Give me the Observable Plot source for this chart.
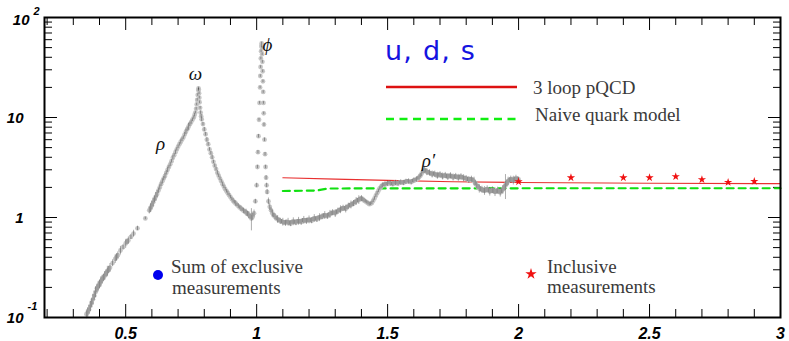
<!DOCTYPE html>
<html>
<head>
<meta charset="utf-8">
<script src="https://cdn.jsdelivr.net/npm/d3@7"></script>
<script src="https://cdn.jsdelivr.net/npm/@observablehq/plot@0.6"></script>
<style>
  html, body { margin: 0; padding: 0; background: #fff; }
  svg { display: block; }
</style>
</head>
<body>
<div id="chart"></div>
<script>
// ---- data: [sqrt(s) GeV, R, relative error] ----
const rhoOmegaData = [
  [0.350,0.108,0.10],[0.355,0.112,0.12],[0.360,0.120,0.10],[0.365,0.130,0.12],[0.370,0.140,0.10],
  [0.375,0.152,0.12],[0.380,0.165,0.10],[0.385,0.180,0.12],[0.390,0.196,0.10],[0.395,0.205,0.12],
  [0.400,0.215,0.10],[0.405,0.228,0.12],[0.410,0.240,0.10],[0.415,0.250,0.08],[0.420,0.262,0.10],
  [0.425,0.276,0.08],[0.430,0.290,0.12],[0.435,0.300,0.08],[0.440,0.315,0.10],[0.450,0.350,0.08],
  [0.460,0.385,0.10],[0.465,0.400,0.08],[0.470,0.420,0.08],[0.480,0.468,0.10],[0.490,0.505,0.06],
  [0.500,0.550,0.10],[0.505,0.570,0.06],[0.510,0.590,0.08],[0.520,0.640,0.06],[0.530,0.690,0.08],
  [0.545,0.780,0.05],[0.575,0.980,0.03],[0.590,1.18,0.08],[0.595,1.25,0.10],[0.600,1.32,0.10],
  [0.605,1.42,0.10],[0.610,1.52,0.08],[0.615,1.62,0.10],[0.620,1.72,0.08],[0.625,1.86,0.06],
  [0.630,2.00,0.06],[0.635,2.15,0.05],[0.640,2.30,0.06],[0.645,2.45,0.05],[0.650,2.60,0.06],
  [0.655,2.80,0.05],[0.660,3.00,0.06],[0.665,3.20,0.04],[0.670,3.40,0.05],[0.675,3.65,0.04],
  [0.680,3.95,0.05],[0.685,4.20,0.04],[0.690,4.50,0.05],[0.695,4.80,0.04],[0.700,5.10,0.04],
  [0.705,5.40,0.04],[0.710,5.70,0.05],[0.715,6.00,0.04],[0.720,6.30,0.04],[0.725,6.75,0.05],
  [0.730,7.20,0.06],[0.735,7.65,0.05],[0.740,8.10,0.08],[0.745,8.55,0.05],[0.750,9.00,0.05],
  [0.755,9.50,0.04],[0.760,10.0,0.04],[0.763,10.6,0.04],[0.766,11.2,0.03],[0.769,12.2,0.03],
  [0.771,13.5,0.03],[0.773,15.0,0.03],[0.775,16.8,0.03],[0.777,18.8,0.03],[0.778,19.5,0.03],
  [0.779,19.0,0.03],[0.780,17.5,0.03],[0.781,15.8,0.03],[0.782,14.2,0.03],[0.784,12.5,0.03],
  [0.786,11.2,0.04],[0.788,10.3,0.04],[0.790,9.6,0.05],[0.795,8.6,0.04],[0.800,7.6,0.05],
  [0.805,6.8,0.04],[0.810,6.0,0.05],[0.815,5.4,0.04],[0.820,4.8,0.04],[0.825,4.4,0.04],
  [0.830,4.0,0.05],[0.835,3.6,0.04],[0.840,3.3,0.04],[0.845,3.05,0.04],[0.850,2.8,0.05],
  [0.855,2.62,0.04],[0.860,2.45,0.04],[0.865,2.30,0.04],[0.870,2.15,0.05],[0.875,2.03,0.04],
  [0.880,1.92,0.04],[0.885,1.83,0.04],[0.890,1.75,0.05],[0.895,1.67,0.04],[0.900,1.60,0.04],
  [0.905,1.53,0.04],[0.910,1.47,0.05],[0.915,1.42,0.04],[0.920,1.38,0.06],[0.925,1.34,0.04],
  [0.930,1.30,0.05],[0.935,1.26,0.04],[0.940,1.23,0.06],[0.945,1.20,0.04],[0.950,1.17,0.06],
  [0.955,1.14,0.05],[0.960,1.12,0.08],[0.965,1.09,0.06],[0.970,1.06,0.08],[0.975,1.02,0.06],
  [0.980,0.98,0.25],[0.985,1.02,0.08],[0.990,1.10,0.08]
];
const phiData = [
  [0.995,1.45,0.05],[1.000,2.10,0.05],[1.003,3.2,0.04],[1.005,4.5,0.04],[1.007,6.5,0.04],
  [1.009,9.5,0.03],[1.011,14.0,0.03],[1.013,20.0,0.03],[1.014,26.0,0.03],[1.015,32.0,0.03],
  [1.016,39.0,0.03],[1.017,46.0,0.03],[1.018,52.0,0.03],[1.019,55.0,0.03],[1.020,50.0,0.03],
  [1.021,43.0,0.03],[1.022,36.0,0.03],[1.023,29.0,0.03],[1.024,23.0,0.03],[1.025,18.0,0.03],
  [1.026,14.0,0.03],[1.027,11.0,0.03],[1.028,8.5,0.04],[1.030,6.0,0.04],[1.032,4.3,0.04],
  [1.034,3.2,0.04],[1.036,2.5,0.05],[1.038,2.1,0.05],[1.040,1.8,0.06],[1.045,1.45,0.08],
  [1.050,1.28,0.08]
];
const continuumData = [
  [1.055,1.18,0.06],[1.060,1.10,0.08],[1.065,1.05,0.05],[1.070,1.02,0.07],[1.075,0.98,0.05],
  [1.080,0.96,0.09],[1.085,0.94,0.05],[1.090,0.92,0.07],[1.095,0.91,0.05],[1.100,0.90,0.09],
  [1.105,0.89,0.05],[1.110,0.88,0.07],[1.115,0.90,0.05],[1.120,0.90,0.09],[1.125,0.88,0.05],
  [1.130,0.87,0.07],[1.135,0.90,0.05],[1.140,0.91,0.09],[1.145,0.90,0.05],[1.150,0.89,0.07],
  [1.155,0.91,0.05],[1.160,0.92,0.09],[1.165,0.91,0.05],[1.170,0.90,0.07],[1.175,0.93,0.05],
  [1.180,0.94,0.09],[1.185,0.93,0.05],[1.190,0.92,0.07],[1.195,0.94,0.05],[1.200,0.95,0.09],
  [1.205,0.94,0.05],[1.210,0.93,0.07],[1.215,0.96,0.05],[1.220,0.98,0.09],[1.225,0.97,0.05],
  [1.230,0.96,0.07],[1.235,0.99,0.05],[1.240,1.00,0.09],[1.245,1.01,0.05],[1.250,1.02,0.07],
  [1.255,1.04,0.05],[1.260,1.05,0.09],[1.265,1.04,0.05],[1.270,1.03,0.07],[1.275,1.06,0.05],
  [1.280,1.08,0.09],[1.285,1.10,0.05],[1.290,1.12,0.07],[1.295,1.11,0.05],[1.300,1.10,0.09],
  [1.305,1.13,0.05],[1.310,1.16,0.07],[1.315,1.18,0.05],[1.320,1.20,0.09],[1.325,1.22,0.05],
  [1.330,1.24,0.07],[1.335,1.23,0.05],[1.340,1.22,0.09],[1.345,1.26,0.05],[1.350,1.30,0.07],
  [1.355,1.32,0.05],[1.360,1.34,0.09],[1.365,1.36,0.05],[1.370,1.38,0.07],[1.375,1.42,0.05],
  [1.380,1.45,0.09],[1.385,1.48,0.05],[1.390,1.50,0.10],[1.395,1.53,0.05],[1.400,1.55,0.07],
  [1.405,1.52,0.05],[1.410,1.48,0.05],[1.415,1.45,0.04],[1.420,1.42,0.04],[1.425,1.39,0.04],
  [1.430,1.36,0.04],[1.435,1.37,0.04],[1.440,1.40,0.04],[1.445,1.47,0.04],[1.450,1.55,0.04],
  [1.455,1.65,0.04],[1.460,1.75,0.04],[1.465,1.85,0.04],[1.470,1.95,0.04],[1.475,2.03,0.05],
  [1.480,2.10,0.06],[1.485,2.12,0.04],[1.490,2.15,0.06],[1.495,2.16,0.04],[1.500,2.18,0.06],
  [1.505,2.21,0.04],[1.510,2.20,0.06],[1.515,2.17,0.04],[1.520,2.16,0.06],[1.525,2.20,0.04],
  [1.530,2.22,0.06],[1.535,2.20,0.04],[1.540,2.19,0.06],[1.545,2.23,0.04],[1.550,2.25,0.06],
  [1.555,2.23,0.04],[1.560,2.22,0.06],[1.565,2.26,0.04],[1.570,2.28,0.06],[1.575,2.30,0.04],
  [1.580,2.30,0.06],[1.585,2.27,0.04],[1.590,2.26,0.06],[1.595,2.31,0.04],[1.600,2.35,0.06],
  [1.605,2.37,0.04],[1.610,2.40,0.06],[1.615,2.46,0.04],[1.620,2.52,0.06],[1.625,2.62,0.05],
  [1.630,2.75,0.07],[1.635,2.88,0.05],[1.640,3.00,0.08],[1.645,2.92,0.05],[1.650,2.85,0.08],
  [1.655,2.82,0.05],[1.660,2.80,0.07],[1.665,2.74,0.05],[1.670,2.70,0.08],[1.675,2.73,0.05],
  [1.680,2.72,0.07],[1.685,2.66,0.05],[1.690,2.62,0.08],[1.695,2.66,0.05],[1.700,2.68,0.07],
  [1.705,2.62,0.05],[1.710,2.58,0.08],[1.715,2.61,0.05],[1.720,2.64,0.07],[1.725,2.58,0.05],
  [1.730,2.55,0.08],[1.735,2.59,0.05],[1.740,2.62,0.07],[1.745,2.56,0.05],[1.750,2.52,0.08],
  [1.755,2.55,0.05],[1.760,2.58,0.07],[1.765,2.53,0.05],[1.770,2.50,0.08],[1.775,2.53,0.05],
  [1.780,2.56,0.07],[1.785,2.51,0.05],[1.790,2.48,0.08],[1.795,2.47,0.05],[1.800,2.45,0.07],
  [1.805,2.41,0.05],[1.810,2.38,0.08],[1.815,2.40,0.05],[1.820,2.42,0.07],[1.825,2.36,0.05],
  [1.830,2.30,0.10],[1.835,2.20,0.06],[1.840,2.10,0.08],[1.845,2.02,0.06],[1.850,1.95,0.10],
  [1.855,1.92,0.06],[1.860,1.90,0.08],[1.865,1.87,0.06],[1.870,1.85,0.10],[1.875,1.88,0.06],
  [1.880,1.92,0.08],[1.885,1.87,0.06],[1.890,1.82,0.10],[1.895,1.85,0.06],[1.900,1.88,0.08],
  [1.905,1.84,0.06],[1.910,1.80,0.10],[1.915,1.83,0.06],[1.920,1.86,0.08],[1.925,1.82,0.06],
  [1.930,1.78,0.10],[1.935,1.84,0.06],[1.940,1.90,0.10],[1.945,2.00,0.08],[1.950,2.10,0.28],
  [1.955,2.20,0.08],[1.960,2.30,0.10],[1.965,2.36,0.06],[1.970,2.40,0.08],[1.975,2.38,0.06],
  [1.980,2.35,0.10],[1.985,2.40,0.06],[1.990,2.45,0.08],[1.995,2.42,0.06],[2.000,2.40,0.06]
];
const pqcdX = [1.1, 1.3, 1.5, 1.75, 2.0, 2.5, 3.0];
const pqcdR = [2.50, 2.42, 2.35, 2.28, 2.24, 2.20, 2.18];
const naiveX = [1.1, 1.23, 1.27, 2.0, 3.0];
const naiveR = [1.84, 1.86, 1.95, 1.96, 1.96];
const inclusiveX = [2.0, 2.2, 2.4, 2.5, 2.6, 2.7, 2.8, 2.9];
const inclusiveR = [2.28, 2.50, 2.50, 2.50, 2.57, 2.40, 2.25, 2.30];

const xMajorTicks = [0.5, 1, 1.5, 2, 2.5, 3];
const xTickLabels = ["0.5", "1", "1.5", "2", "2.5", "3"];
const yMajorTicks = [0.1, 1, 10, 100];
const yTickBase = ["10", "1", "10", "10"];
const yTickExp = ["-1", "", "", "2"];

const resonanceNames = ["ρ", "ω", "ϕ", "ρ′"];
const resonanceX = [0.633, 0.766, 1.041, 1.656];
const resonanceY = [5.5, 27.5, 53.7, 3.7];

// ---- derived tables ----
const exclusive = [...rhoOmegaData, ...phiData, ...continuumData]
  .map(([x, y, e]) => ({x, y, e}));
const pqcd = pqcdX.map((x, i) => ({x, y: pqcdR[i]}));
const naive = naiveX.map((x, i) => ({x, y: naiveR[i]}));
const inclusive = inclusiveX.map((x, i) => ({x, y: inclusiveR[i]}));
const xMinorTicks = d3.range(2, 30).map(i => i / 10).filter(v => Math.round(v * 10) % 5 !== 0);
const yMinorTicks = [0.1, 1, 10].flatMap(d => d3.range(2, 10).map(k => +(d * k).toPrecision(3)));
const yLabels = yMajorTicks.map((v, i) => ({v, base: yTickBase[i], exp: yTickExp[i]}));
const resonances = resonanceNames.map((n, i) => ({n, x: resonanceX[i], y: resonanceY[i]}));

const W = 789, H = 341, mL = 44, mR = 9, mT = 17, mB = 24;
const pw = W - mL - mR, ph = H - mT - mB;
const MAJ = 13, MIN = 8;
const tickFont = {fontFamily: "Liberation Sans, Arial, sans-serif", fontWeight: "bold", fontStyle: "italic"};

const chart = Plot.plot({
  width: W, height: H,
  marginLeft: mL, marginRight: mR, marginTop: mT, marginBottom: mB,
  x: {domain: [0.19, 3], axis: null},
  y: {type: "log", domain: [0.1, 100], axis: null},
  style: {background: "white", overflow: "visible"},
  marks: [
    // inward ticks
    Plot.tickX(xMinorTicks, {x: d => d, insetTop: ph - MIN, stroke: "black", strokeWidth: 1}),
    Plot.tickX(xMajorTicks, {x: d => d, insetTop: ph - MAJ, stroke: "black", strokeWidth: 1}),
    Plot.tickX(xMinorTicks, {x: d => d, insetBottom: ph - MIN, stroke: "black", strokeWidth: 1}),
    Plot.tickX(xMajorTicks, {x: d => d, insetBottom: ph - MAJ, stroke: "black", strokeWidth: 1}),
    Plot.tickY(yMinorTicks, {y: d => d, insetRight: pw - MIN, stroke: "black", strokeWidth: 1}),
    Plot.tickY(yMajorTicks, {y: d => d, insetRight: pw - MAJ, stroke: "black", strokeWidth: 1}),
    Plot.tickY(yMinorTicks, {y: d => d, insetLeft: pw - MIN + 1, stroke: "black", strokeWidth: 1}),
    Plot.tickY(yMajorTicks, {y: d => d, insetLeft: pw - MAJ + 1, stroke: "black", strokeWidth: 1}),
    // theory curves
    Plot.line(naive, {x: "x", y: "y", stroke: "#11e011", strokeWidth: 2.2, strokeDasharray: "7,5"}),
    Plot.line(pqcd, {x: "x", y: "y", stroke: "#e83030", strokeWidth: 1.1}),
    // exclusive sum: points + error bars
    Plot.dot(exclusive, {x: "x", y: "y", r: 2.4, fill: "#c6c6c6", stroke: "none"}),
    Plot.ruleX(exclusive, {x: "x", y1: d => d.y * (1 - d.e), y2: d => d.y * (1 + d.e), stroke: "#1a1a1a", strokeWidth: 0.6, strokeOpacity: 0.6}),
    // inclusive measurements
    Plot.dot(inclusive, {x: "x", y: "y", symbol: "star", r: 2.6, fill: "#f01010", stroke: "none"}),
    // resonance labels
    Plot.text(resonances, {x: "x", y: "y", text: "n", fontFamily: "Liberation Serif, serif", fontStyle: "italic", fontSize: 19, fill: "#111"}),
    // frame
    Plot.frame({stroke: "black", strokeWidth: 2}),
    // x tick labels
    Plot.text(xMajorTicks, {x: d => d, text: (d, i) => xTickLabels[i], frameAnchor: "bottom", dy: 16, lineAnchor: "middle", ...tickFont, fontSize: 16, fill: "black"}),
    // y tick labels
    Plot.text(yLabels.filter(d => d.v !== 100), {y: "v", text: "base", frameAnchor: "left", dx: -21, dy: 1, textAnchor: "end", lineAnchor: "middle", ...tickFont, fontSize: 15, fill: "black"}),
    Plot.text(yLabels.filter(d => d.v === 100), {y: "v", text: "base", frameAnchor: "left", dx: -15, dy: 3, textAnchor: "end", lineAnchor: "middle", ...tickFont, fontSize: 15, fill: "black"}),
    Plot.text(yLabels.filter(d => d.exp && d.v !== 100), {y: "v", text: "exp", frameAnchor: "left", dx: -17, dy: -11, textAnchor: "start", lineAnchor: "middle", ...tickFont, fontSize: 11, fill: "black"}),
    Plot.text(yLabels.filter(d => d.v === 100), {y: "v", text: "exp", frameAnchor: "left", dx: -11, dy: -6, textAnchor: "start", lineAnchor: "middle", ...tickFont, fontSize: 11, fill: "black"})
  ]
});

// ---- legend / annotations (pixel layout) ----
const svg = d3.select(chart);
const serif = "Liberation Serif, Times New Roman, serif";
const g = svg.append("g").attr("text-anchor", "start");
function label(x, y, s) {
  return g.append("text").attr("x", x).attr("y", y).text(s).attr("text-anchor", "start")
    .attr("fill", "#3a3a3a").attr("font-family", serif).attr("font-size", 19);
}
g.append("text").attr("x", 385).attr("y", 60).text("u, d, s").attr("text-anchor", "start")
  .attr("fill", "#1414e0").attr("font-family", "DejaVu Sans, sans-serif")
  .attr("font-size", 27).attr("letter-spacing", 1.2);
g.append("line").attr("x1", 386).attr("x2", 517).attr("y1", 87).attr("y2", 87)
  .attr("stroke", "#dd1111").attr("stroke-width", 2.5);
label(533, 93.5, "3 loop pQCD");
g.append("line").attr("x1", 386).attr("x2", 517).attr("y1", 119).attr("y2", 119)
  .attr("stroke", "#11ee11").attr("stroke-width", 2.5).attr("stroke-dasharray", "8,5.5");
label(535, 120.5, "Naive quark model");
g.append("circle").attr("cx", 158).attr("cy", 275).attr("r", 5).attr("fill", "#0000ee");
label(171, 272.5, "Sum of exclusive");
label(172, 293.5, "measurements");
g.append("path").attr("d", d3.symbol(d3.symbolStar, 40)()).attr("transform", "translate(531,274)")
  .attr("fill", "#f01010");
label(547, 273, "Inclusive");
label(547, 293, "measurements");

document.getElementById("chart").appendChild(chart);
</script>
</body>
</html>
